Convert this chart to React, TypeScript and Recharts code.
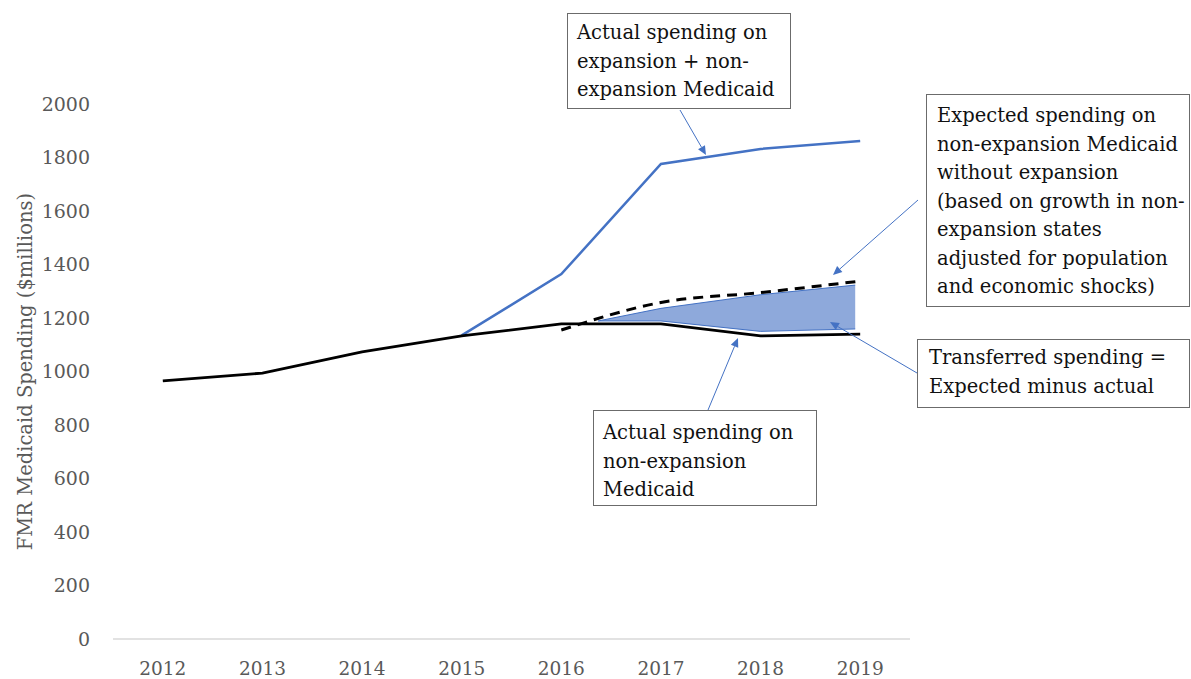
import React from 'react';
import { ComposedChart, Line, Area, XAxis, YAxis, Label } from 'recharts';

const years = [2012, 2013, 2014, 2015, 2016, 2017, 2018, 2019];
const actualNonExpansion = [965, 994, 1073, 1133, 1178, 1178, 1133, 1140];
const actualTotal = [null, null, null, 1135, 1364, 1776, 1832, 1862];
const expectedYears = [2016, 2017, 2018, 2019];
const expectedNonExpansion = [1155, 1258, 1295, 1338];
const transferYears = [2016.37, 2017, 2018, 2018.95];
const transferLow = [1189, 1189, 1150, 1159];
const transferHigh = [1189, 1236, 1287, 1323];
const yTicks = [0, 200, 400, 600, 800, 1000, 1200, 1400, 1600, 1800, 2000];

const mainData = years.map((year, i) => ({
  year,
  nonExp: actualNonExpansion[i],
  total: actualTotal[i],
}));
const expectedData = expectedYears.map((year, i) => ({ year, expected: expectedNonExpansion[i] }));
const transferData = transferYears.map((year, i) => ({ year, range: [transferLow[i], transferHigh[i]] }));

const SERIF = '"DejaVu Serif", "Liberation Serif", serif';
const BLUE = '#4472C4';

type BoxProps = { left: number; top: number; width: number; height: number; padTop: number; padLeft: number; lines: string[] };
const Box = ({ left, top, width, height, padTop, padLeft, lines }: BoxProps) => (
  <div
    style={{
      position: 'absolute',
      left,
      top,
      width,
      height,
      boxSizing: 'border-box',
      border: '1.5px solid #6b6b6b',
      background: '#fff',
      paddingTop: padTop,
      paddingLeft: padLeft,
      fontFamily: SERIF,
      fontSize: 19.5,
      lineHeight: '28.5px',
      color: '#111',
      whiteSpace: 'nowrap',
    }}
  >
    {lines.map((l, i) => (
      <div key={i}>{l}</div>
    ))}
  </div>
);

const arrows = [
  { x1: 680, y1: 110, x2: 706, y2: 155 },
  { x1: 918, y1: 200, x2: 833, y2: 275 },
  { x1: 917, y1: 373, x2: 830, y2: 322 },
  { x1: 708, y1: 410, x2: 738, y2: 338 },
];

const Arrow = ({ x1, y1, x2, y2 }: { x1: number; y1: number; x2: number; y2: number }) => {
  const ang = Math.atan2(y2 - y1, x2 - x1);
  const L = 9;
  const W = 4;
  const bx = x2 - L * Math.cos(ang);
  const by = y2 - L * Math.sin(ang);
  const px = -Math.sin(ang) * W;
  const py = Math.cos(ang) * W;
  return (
    <g>
      <line x1={x1} y1={y1} x2={bx} y2={by} stroke={BLUE} strokeWidth={1} />
      <polygon points={`${x2},${y2} ${bx + px},${by + py} ${bx - px},${by - py}`} fill={BLUE} />
    </g>
  );
};

const YTitle = (props: any) => {
  const vb = props.viewBox || {};
  const cy = vb.y + vb.height / 2;
  const cx = 25;
  return (
    <text
      x={cx}
      y={cy}
      transform={`rotate(-90, ${cx}, ${cy})`}
      textAnchor="middle"
      dominantBaseline="central"
      fill="#595959"
      fontFamily={SERIF}
      fontSize={19.5}
    >
      FMR Medicaid Spending ($millions)
    </text>
  );
};

export default function App() {
  return (
    <div style={{ position: 'absolute', left: 0, top: 0, width: 1191, height: 679, background: '#fff' }}>
      <ComposedChart width={1191} height={679} data={mainData} margin={{ top: 104, right: 281, bottom: 0, left: 0 }}>
        <XAxis
          dataKey="year"
          type="number"
          domain={[2011.5, 2019.5]}
          ticks={years}
          allowDataOverflow
          height={40}
          tickLine={false}
          tickSize={0}
          tickMargin={23}
          axisLine={{ stroke: '#d9d9d9', strokeWidth: 1.5 }}
          tick={{ fill: '#595959', fontFamily: SERIF, fontSize: 18.5 }}
        />
        <YAxis
          domain={[0, 2000]}
          ticks={yTicks}
          width={113}
          axisLine={false}
          tickLine={false}
          tickSize={0}
          tickMargin={23}
          tick={{ fill: '#595959', fontFamily: SERIF, fontSize: 19 }}
        >
          <Label content={<YTitle />} />
        </YAxis>
        <Area
          data={transferData}
          dataKey="range"
          type="linear"
          fill="#8EA9DB"
          fillOpacity={1}
          stroke={BLUE}
          strokeWidth={1}
          isAnimationActive={false}
          dot={false}
          activeDot={false}
        />
        <Line
          dataKey="total"
          type="linear"
          stroke={BLUE}
          strokeWidth={2.5}
          dot={false}
          activeDot={false}
          connectNulls={false}
          isAnimationActive={false}
        />
        <Line
          dataKey="nonExp"
          type="linear"
          stroke="#000"
          strokeWidth={2.8}
          dot={false}
          activeDot={false}
          isAnimationActive={false}
        />
        <Line
          data={expectedData}
          dataKey="expected"
          type="monotone"
          stroke="#000"
          strokeWidth={3}
          strokeDasharray="10 7"
          dot={false}
          activeDot={false}
          isAnimationActive={false}
        />
      </ComposedChart>
      <svg width={1191} height={679} style={{ position: 'absolute', left: 0, top: 0, pointerEvents: 'none' }}>
        {arrows.map((a, i) => (
          <Arrow key={i} {...a} />
        ))}
      </svg>
      <Box left={567} top={13} width={224} height={96} padTop={5} padLeft={9} lines={['Actual spending on', 'expansion + non-', 'expansion Medicaid']} />
      <Box
        left={926}
        top={94}
        width={264}
        height={213}
        padTop={7}
        padLeft={10}
        lines={[
          'Expected spending on',
          'non-expansion Medicaid',
          'without expansion',
          '(based on growth in non-',
          'expansion states',
          'adjusted for population',
          'and economic shocks)',
        ]}
      />
      <Box left={917} top={339} width={273} height={69} padTop={4} padLeft={11} lines={['Transferred spending =', 'Expected minus actual']} />
      <Box left={593} top={410} width={224} height={96} padTop={8} padLeft={9} lines={['Actual spending on', 'non-expansion', 'Medicaid']} />
    </div>
  );
}
